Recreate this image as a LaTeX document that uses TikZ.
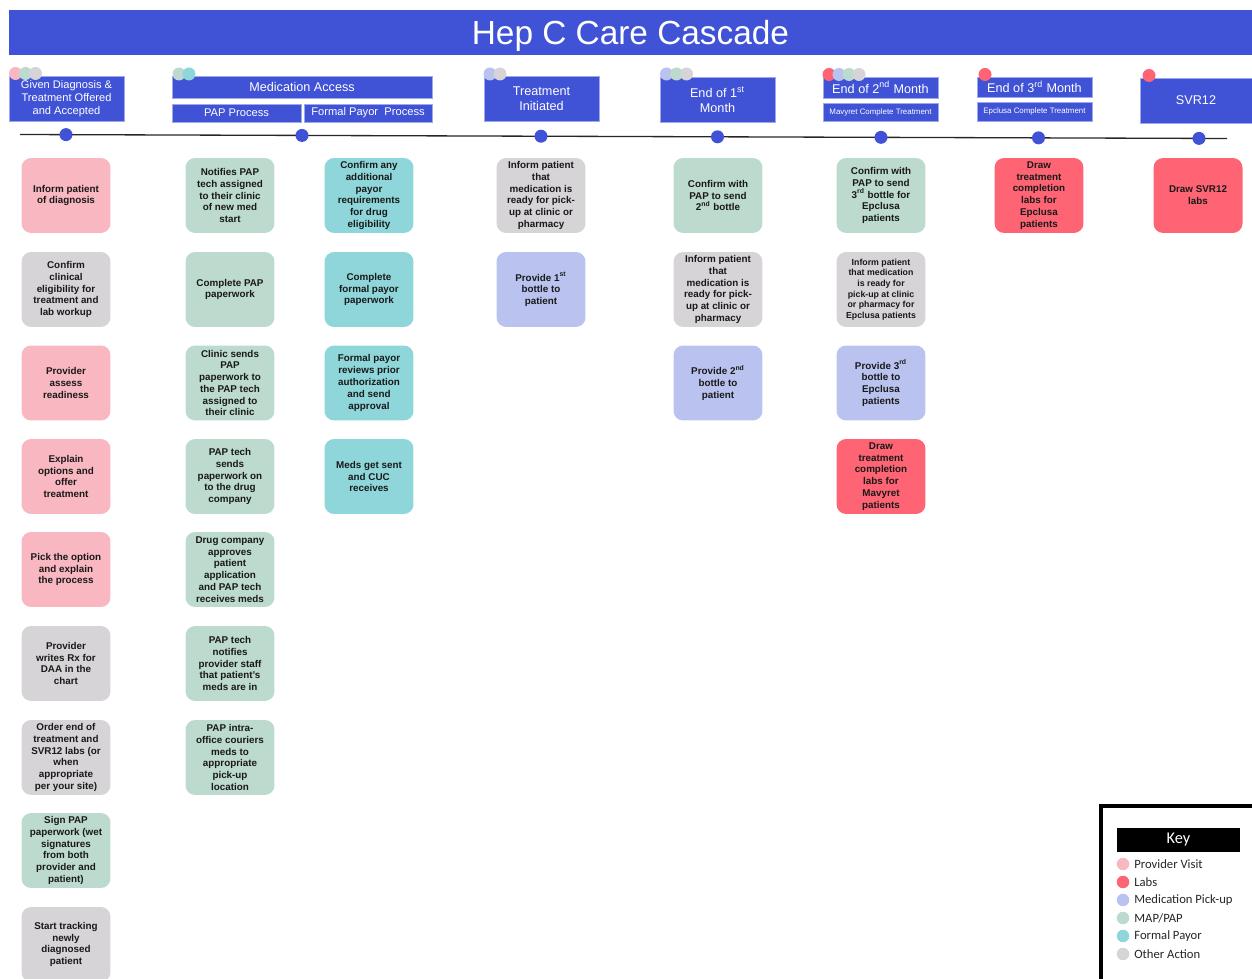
\documentclass[tikz,border=0pt]{standalone}
\usepackage{fontspec}
\setmainfont{Liberation Sans}
\newfontfamily\keyfont{Carlito}

\definecolor{hcblue}{HTML}{4052D6}
\definecolor{pvpink}{HTML}{F8B7C1}
\definecolor{labred}{HTML}{FF6474}
\definecolor{pickup}{HTML}{BAC3EF}
\definecolor{mapgreen}{HTML}{BCDACE}
\definecolor{payteal}{HTML}{8ED6DA}
\definecolor{othergray}{HTML}{D6D4D6}

\begin{document}
\begin{tikzpicture}[x=0.02cm, y=-0.02cm,
    every node/.style={font=\fontsize{7.2}{8.6}\selectfont},
    head/.style={fill=hcblue, draw=hcblue!50!white, line width=0.5pt, text=white, align=center, inner sep=0pt},
    card/.style={rounded corners=5.5pt, minimum width=1.78cm, minimum height=1.5cm, align=center, inner sep=0pt, text=black!90,
        font=\fontsize{5.6}{6.7}\selectfont\bfseries},
    tdot/.style={circle, fill=hcblue, minimum size=0.26cm, inner sep=0pt}]
    \useasboundingbox (0,0) rectangle (1252,979);

    % Titel
    \node[head, draw=none, minimum width=24.86cm, minimum height=0.9cm, text height=13.6pt, text depth=0pt,
        font=\fontsize{19}{22}\selectfont] (title) at (630.5,32.5) {Hep C Care Cascade};

    % Kopfzeilen
    \node[head, minimum width=2.3cm, minimum height=0.9cm, font=\fontsize{6.3}{7.6}\selectfont] (hgdx) at (66.5,98.5) {Given Diagnosis \&\\Treatment Offered\\and Accepted};
    \node[head, minimum width=5.2cm, minimum height=0.44cm] (hmed) at (302,87) {Medication Access};
    \node[head, minimum width=2.58cm, minimum height=0.36cm, font=\fontsize{6.35}{7}\selectfont] (hpap) at (236.5,113) {PAP Process};
    \node[head, minimum width=2.56cm, minimum height=0.36cm, font=\fontsize{6.35}{7}\selectfont] (hpay) at (368,113) {Formal Payor\ \ Process};
    \node[head, minimum width=2.3cm, minimum height=0.9cm] (htx) at (541.5,98.5) {Treatment\\Initiated};
    \node[head, minimum width=2.3cm, minimum height=0.9cm] (hmo1) at (717.5,99.5) {End of 1\textsuperscript{st}\\Month};
    \node[head, minimum width=2.3cm, minimum height=0.42cm] (hmo2) at (880.5,87.5) {End of 2\textsuperscript{nd} Month};
    \node[head, minimum width=2.3cm, minimum height=0.36cm, font=\fontsize{4.5}{5}\selectfont] (hmav) at (880.5,112) {Mavyret Complete Treatment};
    \node[head, minimum width=2.3cm, minimum height=0.4cm] (hmo3) at (1034.5,87) {End of 3\textsuperscript{rd} Month};
    \node[head, minimum width=2.3cm, minimum height=0.38cm, font=\fontsize{4.5}{5}\selectfont] (hepc) at (1034.5,111.5) {Epclusa Complete Treatment};
    \node[head, minimum width=2.24cm, minimum height=0.9cm] (hsvr) at (1196,100.5) {SVR12};

    % Farbpunkte an den Kopfzeilen
    \fill[pvpink] (15.5,73.5) circle[radius=0.13cm];
    \fill[mapgreen] (25.5,73.5) circle[radius=0.13cm];
    \fill[othergray] (35.5,73.5) circle[radius=0.13cm];
    \fill[mapgreen] (179,74) circle[radius=0.13cm];
    \fill[payteal] (189,74) circle[radius=0.13cm];
    \fill[pickup] (490,74) circle[radius=0.13cm];
    \fill[othergray] (500,74) circle[radius=0.13cm];
    \fill[pickup] (666.5,74) circle[radius=0.13cm];
    \fill[mapgreen] (676.5,74) circle[radius=0.13cm];
    \fill[othergray] (686.5,74) circle[radius=0.13cm];
    \fill[labred] (829,74.5) circle[radius=0.13cm];
    \fill[pickup] (839,74.5) circle[radius=0.13cm];
    \fill[mapgreen] (849,74.5) circle[radius=0.13cm];
    \fill[othergray] (859,74.5) circle[radius=0.13cm];
    \fill[labred] (985,74.5) circle[radius=0.13cm];
    \fill[labred] (1149,75.5) circle[radius=0.13cm];

    % Zeitachse
    \coordinate (tlL) at (20,134.5);
    \coordinate (tlR) at (1227,138.5);
    \draw[line width=0.75pt, black!85] (tlL) -- (tlR);
    \node[tdot] (d1) at (66,134.65) {};
    \node[tdot] (d2) at (302,135.43) {};
    \node[tdot] (d3) at (541,136.23) {};
    \node[tdot] (d4) at (717.5,136.81) {};
    \node[tdot] (d5) at (881,137.35) {};
    \node[tdot] (d6) at (1038.5,137.88) {};
    \node[tdot] (d7) at (1199,138.4) {};

    % Spalte 1
    \node[card, fill=pvpink] (dx1) at (66,195.5) {Inform patient\\of diagnosis};
    \node[card, fill=othergray] (dx2) at (66,289.5) {Confirm\\clinical\\eligibility for\\treatment and\\lab workup};
    \node[card, fill=pvpink] (dx3) at (66,383) {Provider\\assess\\readiness};
    \node[card, fill=pvpink] (dx4) at (66,476.5) {Explain\\options and\\offer\\treatment};
    \node[card, fill=pvpink] (dx5) at (66,569.5) {Pick the option\\and explain\\the process};
    \node[card, fill=othergray] (dx6) at (66,663.5) {Provider\\writes Rx for\\DAA in the\\chart};
    \node[card, fill=othergray] (dx7) at (66,757.5) {Order end of\\treatment and\\SVR12 labs (or\\when\\appropriate\\per your site)};
    \node[card, fill=mapgreen] (dx8) at (66,850.5) {Sign PAP\\paperwork (wet\\signatures\\from both\\provider and\\patient)};
    \node[card, fill=othergray] (dx9) at (66,944.5) {Start tracking\\newly\\diagnosed\\patient};

    % Spalte 2 (PAP)
    \node[card, fill=mapgreen] (pap1) at (230,195.5) {Notifies PAP\\tech assigned\\to their clinic\\of new med\\start};
    \node[card, fill=mapgreen] (pap2) at (230,289.5) {Complete PAP\\paperwork};
    \node[card, fill=mapgreen] (pap3) at (230,383) {Clinic sends\\PAP\\paperwork to\\the PAP tech\\assigned to\\their clinic};
    \node[card, fill=mapgreen] (pap4) at (230,476.5) {PAP tech\\sends\\paperwork on\\to the drug\\company};
    \node[card, fill=mapgreen] (pap5) at (230,569.5) {Drug company\\approves\\patient\\application\\and PAP tech\\receives meds};
    \node[card, fill=mapgreen] (pap6) at (230,663.5) {PAP tech\\notifies\\provider staff\\that patient's\\meds are in};
    \node[card, fill=mapgreen] (pap7) at (230,757.5) {PAP intra-\\office couriers\\meds to\\appropriate\\pick-up\\location};

    % Spalte 3 (Formal Payor)
    \node[card, fill=payteal] (pay1) at (369,195.5) {Confirm any\\additional\\payor\\requirements\\for drug\\eligibility};
    \node[card, fill=payteal] (pay2) at (369,289.5) {Complete\\formal payor\\paperwork};
    \node[card, fill=payteal] (pay3) at (369,383) {Formal payor\\reviews prior\\authorization\\and send\\approval};
    \node[card, fill=payteal] (pay4) at (369,476.5) {Meds get sent\\and CUC\\receives};

    % Spalte 4
    \node[card, fill=othergray] (tx1) at (541,195.5) {Inform patient\\that\\medication is\\ready for pick-\\up at clinic or\\pharmacy};
    \node[card, fill=pickup] (tx2) at (541,289.5) {Provide 1\textsuperscript{st}\\bottle to\\patient};

    % Spalte 5
    \node[card, fill=mapgreen] (mo1a) at (718,195.5) {Confirm with\\PAP to send\\2\textsuperscript{nd} bottle};
    \node[card, fill=othergray] (mo1b) at (718,289.5) {Inform patient\\that\\medication is\\ready for pick-\\up at clinic or\\pharmacy};
    \node[card, fill=pickup] (mo1c) at (718,383) {Provide 2\textsuperscript{nd}\\bottle to\\patient};

    % Spalte 6
    \node[card, fill=mapgreen] (mo2a) at (881,195.5) {Confirm with\\PAP to send\\3\textsuperscript{rd} bottle for\\Epclusa\\patients};
    \node[card, fill=othergray, font=\fontsize{5}{6}\selectfont\bfseries] (mo2b) at (881,289.5) {Inform patient\\that medication\\is ready for\\pick-up at clinic\\or pharmacy for\\Epclusa patients};
    \node[card, fill=pickup] (mo2c) at (881,383) {Provide 3\textsuperscript{rd}\\bottle to\\Epclusa\\patients};
    \node[card, fill=labred] (mo2d) at (881,476.5) {Draw\\treatment\\completion\\labs for\\Mavyret\\patients};

    % Spalte 7 und 8
    \node[card, fill=labred] (mo3a) at (1039,195.5) {Draw\\treatment\\completion\\labs for\\Epclusa\\patients};
    \node[card, fill=labred] (svr1) at (1198,195.5) {Draw SVR12\\labs};

    % Legende
    \draw[line width=2pt, fill=white] (1101,806) rectangle (1262,995);
    \node[fill=black, text=white, minimum width=2.48cm, minimum height=0.5cm, inner sep=0pt, font=\keyfont\fontsize{9.3}{10}\selectfont] (key) at (1178.5,840) {Key};
    \node[circle, fill=pvpink, minimum size=0.25cm, inner sep=0pt] (kc1) at (1123,864) {};
    \node[circle, fill=labred, minimum size=0.25cm, inner sep=0pt] (kc2) at (1123,882) {};
    \node[circle, fill=pickup, minimum size=0.25cm, inner sep=0pt] (kc3) at (1123,900) {};
    \node[circle, fill=mapgreen, minimum size=0.25cm, inner sep=0pt] (kc4) at (1123,918) {};
    \node[circle, fill=payteal, minimum size=0.25cm, inner sep=0pt] (kc5) at (1123,936) {};
    \node[circle, fill=othergray, minimum size=0.25cm, inner sep=0pt] (kc6) at (1123,954) {};
    \node[anchor=west, inner sep=0pt, text=black!85, font=\keyfont\fontsize{7.2}{8}\selectfont] (kt1) at (1134,864) {Provider Visit};
    \node[anchor=west, inner sep=0pt, text=black!85, font=\keyfont\fontsize{7.2}{8}\selectfont] (kt2) at (1134,882) {Labs};
    \node[anchor=west, inner sep=0pt, text=black!85, font=\keyfont\fontsize{7.2}{8}\selectfont] (kt3) at (1134,900) {Medication Pick-up};
    \node[anchor=west, inner sep=0pt, text=black!85, font=\keyfont\fontsize{7.2}{8}\selectfont] (kt4) at (1134,918) {MAP/PAP};
    \node[anchor=west, inner sep=0pt, text=black!85, font=\keyfont\fontsize{7.2}{8}\selectfont] (kt5) at (1134,936) {Formal Payor};
    \node[anchor=west, inner sep=0pt, text=black!85, font=\keyfont\fontsize{7.2}{8}\selectfont] (kt6) at (1134,954) {Other Action};
\end{tikzpicture}
\end{document}
